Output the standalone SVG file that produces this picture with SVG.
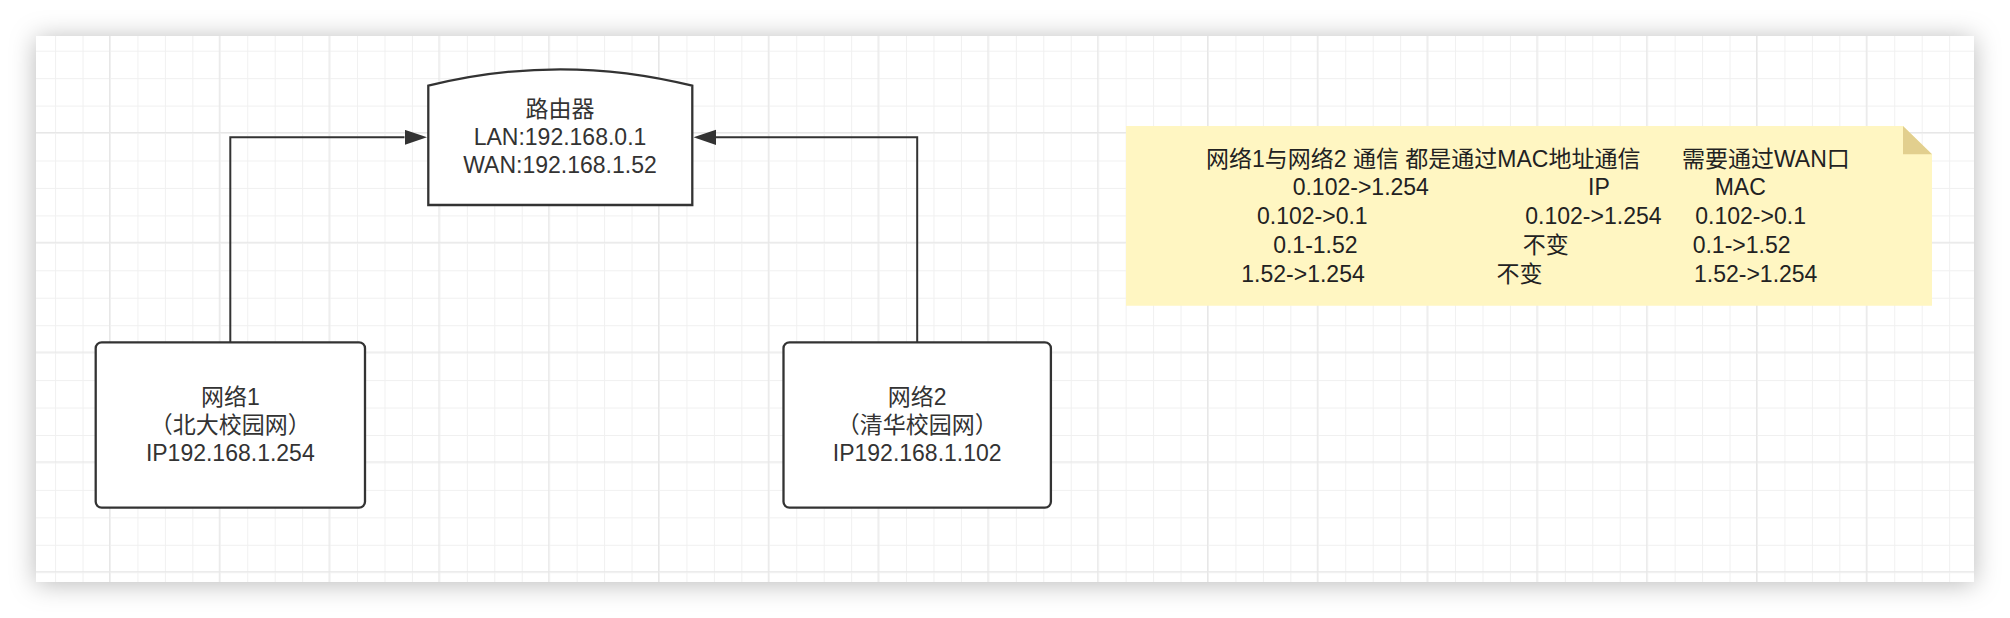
<svg xmlns="http://www.w3.org/2000/svg" width="2010" height="618" viewBox="0 0 2010 618">
  <defs>
    <style>
      .txt { font-family: "Liberation Sans", "Noto Sans CJK SC", sans-serif; font-size: 23px; fill: #333333; }
      .mid { text-anchor: middle; }
      .note-txt { fill: #222222; }
      .box { fill: #ffffff; stroke: #333333; stroke-width: 2.3; }
      .conn { fill: none; stroke: #333333; stroke-width: 2; }
    </style>
    <filter id="shadow" x="-5%" y="-20%" width="110%" height="140%">
      <feDropShadow dx="0" dy="2" stdDeviation="13" flood-color="#000000" flood-opacity="0.28"/>
    </filter>
    <pattern id="minor" patternUnits="userSpaceOnUse" x="0.2" y="23.25" width="27.45" height="27.45">
      <path d="M0,0 V27.45 M0,0 H27.45" fill="none" stroke="#f0f0f0" stroke-width="2"/>
    </pattern>
    <pattern id="major" patternUnits="userSpaceOnUse" x="109" y="132" width="109.8" height="109.8">
      <path d="M0,0 V109.8 M0,0 H109.8" fill="none" stroke="#e7e7e7" stroke-width="2"/>
    </pattern>
    <marker id="arrow" markerUnits="userSpaceOnUse" markerWidth="24" markerHeight="16" refX="0" refY="7.6" orient="auto">
      <path d="M0,0 L22.5,7.6 L0,15.2 Z" fill="#333333"/>
    </marker>
  </defs>

  <rect x="0" y="0" width="2010" height="618" fill="#ffffff"/>
  <rect x="36" y="36" width="1938" height="546" fill="#ffffff" filter="url(#shadow)"/>
  <rect x="36" y="36" width="1938" height="546" fill="url(#minor)"/>
  <rect x="36" y="36" width="1938" height="546" fill="url(#major)"/>

  <g id="connectors">
    <path class="conn" d="M230.3,342 V137.3 H404.5" marker-end="url(#arrow)"/>
    <path class="conn" d="M917.2,342 V137.3 H716" marker-end="url(#arrow)"/>
  </g>

  <g id="router">
    <path class="box" d="M428.3,205 L428.3,85.7 Q560.3,52.9 692.3,85.7 L692.3,205 Z"/>
    <text class="txt mid" x="560" y="117">路由器</text>
    <text class="txt mid" x="560" y="145">LAN:192.168.0.1</text>
    <text class="txt mid" x="560" y="172.7">WAN:192.168.1.52</text>
  </g>

  <g id="net1">
    <rect class="box" x="95.7" y="342.3" width="269.3" height="165.4" rx="6" ry="6"/>
    <text class="txt mid" x="230.3" y="405">网络1</text>
    <text class="txt mid" x="230.3" y="433">（北大校园网）</text>
    <text class="txt mid" x="230.3" y="461">IP192.168.1.254</text>
  </g>

  <g id="net2">
    <rect class="box" x="783.5" y="342.3" width="267.4" height="165.4" rx="6" ry="6"/>
    <text class="txt mid" x="917.2" y="405">网络2</text>
    <text class="txt mid" x="917.2" y="433">（清华校园网）</text>
    <text class="txt mid" x="917.2" y="461">IP192.168.1.102</text>
  </g>

  <g id="note">
    <path d="M1126,126 L1903,126 L1932,154.3 L1932,305.7 L1126,305.7 Z" fill="#fff6c2"/>
    <path d="M1903,126 L1903,154.3 L1932,154.3 Z" fill="#e2cf8e"/>
    <text class="txt note-txt" y="166.7"><tspan x="1206">网络1与网络2 通信 都是通过MAC地址通信</tspan><tspan x="1682">需要通过WAN口</tspan></text>
    <text class="txt note-txt" y="195.4"><tspan x="1292.7">0.102-&gt;1.254</tspan><tspan x="1588">IP</tspan><tspan x="1714.7">MAC</tspan></text>
    <text class="txt note-txt" y="224.1"><tspan x="1257">0.102-&gt;0.1</tspan><tspan x="1525.3">0.102-&gt;1.254</tspan><tspan x="1695.3">0.102-&gt;0.1</tspan></text>
    <text class="txt note-txt" y="252.8"><tspan x="1273.2">0.1-1.52</tspan><tspan x="1522.7">不变</tspan><tspan x="1692.7">0.1-&gt;1.52</tspan></text>
    <text class="txt note-txt" y="281.5"><tspan x="1241.3">1.52-&gt;1.254</tspan><tspan x="1496.6">不变</tspan><tspan x="1694">1.52-&gt;1.254</tspan></text>
  </g>
</svg>
